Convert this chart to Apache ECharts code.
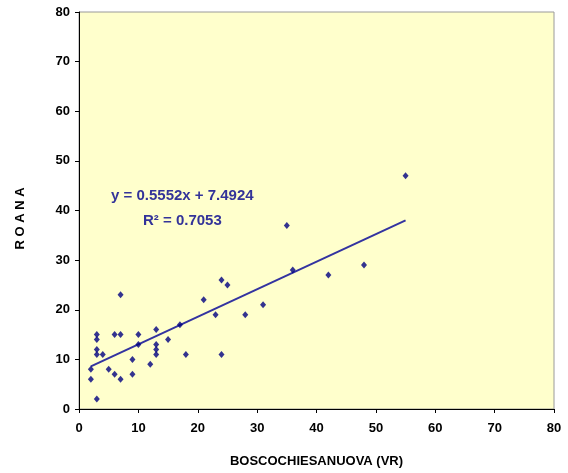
<!DOCTYPE html>
<html>
<head>
<meta charset="utf-8">
<script src="https://cdn.jsdelivr.net/npm/echarts@6/dist/echarts.min.js"></script>
<style>html,body{margin:0;padding:0;background:#fff;}#c{width:568px;height:473px;}</style>
</head>
<body>
<div id="c"></div>
<script>
const xValues = [7,3,3,6,7,10,13,17,15,3,3,4,10,13,13,13,18,9,2,5,12,2,6,7,9,3,24,21,24,25,23,28,31,36,42,35,48,55];
const yValues = [23,15,14,15,15,15,16,17,14,12,11,11,13,13,12,11,11,10,8,8,9,6,7,6,7,2,11,22,26,25,19,19,21,28,27,37,29,47];
const slope = 0.5552;
const intercept = 7.4924;
const rSquared = 0.7053;
const trendX = [2, 55];
const axisTicks = [0,10,20,30,40,50,60,70,80];

const points = xValues.map((x, i) => [x, yValues[i]]);
const trend = trendX.map(x => [x, slope * x + intercept]);
const font = '"Liberation Sans", Arial, sans-serif';

const chart = echarts.init(document.getElementById('c'));
chart.setOption({
  animation: false,
  backgroundColor: '#ffffff',
  grid: { left: 79, right: 14, top: 12, bottom: 62, show: true, backgroundColor: '#FFFFCC', borderColor: '#9a9a9a', borderWidth: 1 },
  xAxis: {
    type: 'value', min: axisTicks[0], max: axisTicks[axisTicks.length-1], interval: 10,
    name: 'BOSCOCHIESANUOVA (VR)', nameLocation: 'middle', nameGap: 46,
    nameTextStyle: { fontFamily: font, fontWeight: 'bold', fontSize: 13, color: '#000' },
    axisLine: { show: true, lineStyle: { color: '#000', width: 1 } },
    axisTick: { show: true, length: 4, lineStyle: { color: '#000' } },
    axisLabel: { fontFamily: font, fontWeight: 'bold', fontSize: 13, color: '#000', margin: 13 },
    splitLine: { show: false }
  },
  yAxis: {
    type: 'value', min: axisTicks[0], max: axisTicks[axisTicks.length-1], interval: 10,
    axisLine: { show: true, lineStyle: { color: '#000', width: 1 } },
    axisTick: { show: true, length: 4, lineStyle: { color: '#000' } },
    axisLabel: { fontFamily: font, fontWeight: 'bold', fontSize: 13, color: '#000', margin: 9 },
    splitLine: { show: false }
  },
  graphic: [
    { type: 'text', x: 20.5, y: 218.5, rotation: Math.PI/2,
      style: { text: 'R O A N A', fill: '#000', font: 'bold 13px ' + font, align: 'center', verticalAlign: 'middle' } },
    { type: 'text', x: 111, y: 196,
      style: { text: 'y = ' + slope + 'x + ' + intercept, fill: '#333399', font: 'bold 15px ' + font, align: 'left', verticalAlign: 'middle' } },
    { type: 'text', x: 143, y: 221,
      style: { text: 'R\u00B2 = ' + rSquared, fill: '#333399', font: 'bold 15px ' + font, align: 'left', verticalAlign: 'middle' } }
  ],
  series: [
    { type: 'line', data: trend, showSymbol: false, symbol: 'none', lineStyle: { color: '#3333A0', width: 2 }, z: 2 },
    { type: 'scatter', data: points, symbol: 'diamond', symbolSize: [6, 7], itemStyle: { color: '#000080' }, z: 3 }
  ]
});
</script>
</body>
</html>
